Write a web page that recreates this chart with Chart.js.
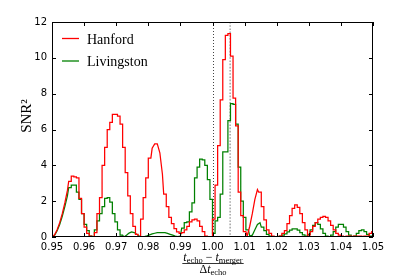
<!DOCTYPE html>
<html><head><meta charset="utf-8">
<script src="https://cdn.jsdelivr.net/npm/chart.js@4/dist/chart.umd.min.js"></script>
<style>html,body{margin:0;padding:0;background:#fff}canvas{display:block}</style>
</head><body>
<canvas id="c" width="415" height="277" style="width:415px;height:277px"></canvas>
<script>
// bin centres (t_echo - t_merger)/Δt_echo
const xs = [
0.9500,0.9508,0.9516,0.9524,0.9532,0.9540,0.9548,0.9556,0.9564,0.9572,
0.9580,0.9588,0.9596,0.9604,0.9612,0.9620,0.9628,0.9636,0.9644,0.9652,
0.9660,0.9668,0.9676,0.9684,0.9692,0.9700,0.9708,0.9716,0.9724,0.9732,
0.9740,0.9748,0.9756,0.9764,0.9772,0.9780,0.9788,0.9796,0.9804,0.9812,
0.9820,0.9828,0.9836,0.9844,0.9852,0.9860,0.9868,0.9876,0.9884,0.9892,
0.9900,0.9908,0.9916,0.9924,0.9932,0.9940,0.9948,0.9956,0.9964,0.9972,
0.9980,0.9988,0.9996,1.0004,1.0012,1.0020,1.0028,1.0036,1.0044,1.0052,
1.0060,1.0068,1.0076,1.0084,1.0092,1.0100,1.0108,1.0116,1.0124,1.0132,
1.0140,1.0148,1.0156,1.0164,1.0172,1.0180,1.0188,1.0196,1.0204,1.0212,
1.0220,1.0228,1.0236,1.0244,1.0252,1.0260,1.0268,1.0276,1.0284,1.0292,
1.0300,1.0308,1.0316,1.0324,1.0332,1.0340,1.0348,1.0356,1.0364,1.0372,
1.0380,1.0388,1.0396,1.0404,1.0412,1.0420,1.0428,1.0436,1.0444,1.0452,
1.0460,1.0468,1.0476,1.0484,1.0492,1.0500];

const hanford = [
0,0.12,0.4,0.8,1.3,1.9,2.6,3.1,3.4,3.35,
3.3,2.15,1.3,0.55,0.2,0.05,0.02,0.25,1.3,2.2,
4.0,5.0,6.0,6.4,6.85,6.85,6.75,6.3,5.0,3.6,
2.3,1.3,0.6,0.15,0.02,1.0,2.2,3.3,4.4,4.95,
5.2,5.2,4.7,3.5,2.4,1.7,1.1,0.75,0.47,0.28,
0.2,0.25,0.4,0.6,0.85,0.95,1.0,0.9,0.6,0.3,
0.05,0,0,1.0,2.9,5.1,7.65,9.9,11.25,11.35,
10.1,7.75,6.2,2.5,1.2,0.3,0.05,0.6,1.3,2.1,
2.65,2.5,1.7,0.95,0.4,0.2,0.05,0,0,0.05,
0.2,0.35,0.75,1.2,1.6,1.8,1.65,1.3,0.8,0.4,
0.1,0.3,0.6,0.8,1.0,1.1,1.15,1.1,0.9,0.65,
0.4,0.2,0.1,0.05,0.02,0.05,0.05,0.03,0.05,0.05,
0.05,0.03,0.05,0.05,0.2,0.3];

const livingston = [
0,0.1,0.35,0.7,1.15,1.7,2.3,2.75,2.9,2.9,
2.5,2.1,1.3,0.7,0.35,0.05,0,0.4,0.9,1.3,
1.7,2.15,2.2,1.95,1.3,0.85,0.4,0.1,0,0.1,
0.22,0.28,0.25,0.15,0.05,0,0.02,0.06,0.12,0.17,
0.21,0.24,0.25,0.25,0.24,0.2,0.15,0.1,0.05,0.02,
0.05,0.5,0.8,0.85,1.4,1.9,3.3,3.9,4.35,4.3,
4.0,3.2,2.1,0.2,0.9,1.1,2.4,4.75,4.75,6.5,
7.45,7.4,6.3,3.9,2.0,1.1,0.4,0.05,0.1,0.4,
0.7,0.8,0.55,0.35,0.15,0.05,0.02,0.02,0.02,0.05,
0.1,0.18,0.28,0.38,0.45,0.45,0.38,0.25,0.12,0.05,
0.15,0.4,0.65,0.8,0.7,0.45,0.2,0.05,0.02,0.1,
0.3,0.55,0.7,0.7,0.55,0.3,0.1,0.02,0.05,0.2,
0.35,0.4,0.3,0.15,0.05,0.02];

// index ranges drawn as smooth curves rather than steps
const hanfordSmooth = [[0,6],[39,43],[76,80]];
const livingstonSmooth = [[0,6],[28,50],[77,81]];

const xTickValues = [0.95,0.96,0.97,0.98,0.99,1.00,1.01,1.02,1.03,1.04,1.05];
const yTickValues = [0,2,4,6,8,10,12];
const markerLines = [1.0, 1.0055];
const seriesNames = ['Hanford','Livingston'];

const binWidth = 0.0008;
function buildPoints(vals, smooth){
  const pts = [];
  const isSmooth = i => smooth.some(([a,b]) => i >= a && i <= b);
  vals.forEach((v,i) => {
    if (isSmooth(i)) pts.push({x: xs[i], y: v});
    else { pts.push({x: xs[i]-binWidth/2, y: v}); pts.push({x: xs[i]+binWidth/2, y: v}); }
  });
  return pts;
}

Chart.defaults.font.family = 'DejaVu Sans';
Chart.defaults.color = '#000';

const deco = {
  id: 'deco',
  beforeDatasetsDraw(chart){
    const {ctx, chartArea:a, scales:{x}} = chart;
    ctx.save();
    let px = Math.round(x.getPixelForValue(markerLines[0])) + 0.5;
    ctx.strokeStyle = '#444'; ctx.lineWidth = 1; ctx.setLineDash([1,2]);
    ctx.beginPath(); ctx.moveTo(px, a.top); ctx.lineTo(px, a.bottom); ctx.stroke();
    px = x.getPixelForValue(markerLines[1]);
    ctx.strokeStyle = '#aaa'; ctx.lineWidth = 1.6; ctx.setLineDash([1.6,1.6]);
    ctx.beginPath(); ctx.moveTo(px, a.top); ctx.lineTo(px, a.bottom); ctx.stroke();
    ctx.restore();
  },
  afterDraw(chart){
    const {ctx, chartArea:a, scales:{x,y}} = chart;
    ctx.save();
    // frame
    ctx.strokeStyle = '#000'; ctx.lineWidth = 1; ctx.setLineDash([]);
    ctx.strokeRect(a.left+0.5, a.top+0.5, a.right-a.left-1, a.bottom-a.top-1);
    // inward ticks, all sides
    ctx.beginPath();
    xTickValues.forEach(v => {
      const px = Math.round(x.getPixelForValue(v)) + 0.5;
      ctx.moveTo(px, a.bottom); ctx.lineTo(px, a.bottom-4);
      ctx.moveTo(px, a.top); ctx.lineTo(px, a.top+4);
    });
    yTickValues.forEach(v => {
      const py = Math.round(y.getPixelForValue(v)) + 0.5;
      ctx.moveTo(a.left, py); ctx.lineTo(a.left+4, py);
      ctx.moveTo(a.right, py); ctx.lineTo(a.right-4, py);
    });
    ctx.stroke();
    // legend
    chart.data.datasets.forEach((ds,i) => {
      const ly = a.top + 16.5 + i*22.5;
      ctx.strokeStyle = ds.borderColor; ctx.lineWidth = 1.3;
      ctx.beginPath(); ctx.moveTo(a.left+10, ly); ctx.lineTo(a.left+27, ly); ctx.stroke();
      ctx.fillStyle = '#000'; ctx.font = '14px "Liberation Serif"';
      ctx.textAlign = 'left'; ctx.textBaseline = 'alphabetic';
      ctx.fillText(ds.label, a.left+35, ly+5);
    });
    // y title
    ctx.save();
    ctx.translate(27, 116); ctx.rotate(-Math.PI/2);
    ctx.font = '15px "Liberation Serif"'; ctx.textAlign = 'center'; ctx.textBaseline = 'middle';
    ctx.fillText('SNR²', 0, 0);
    ctx.restore();
    // x title (fraction)
    const cx = (a.left + a.right)/2 + 0.5;
    const main = 'italic 12px "Liberation Serif"', up = '12px "Liberation Serif"', sub = '8.5px "Liberation Serif"';
    const num = [[main,'t',0],[sub,'echo',2.5],[up,' \u2212 ',0],[main,'t',0],[sub,'merger',2.5]];
    const den = [[up,'\u0394',0],[main,'t',0],[sub,'echo',2.5]];
    function drawParts(parts, baseY){
      let w = 0;
      parts.forEach(p => { ctx.font = p[0]; w += ctx.measureText(p[1]).width; });
      let px = cx - w/2;
      ctx.textAlign = 'left'; ctx.textBaseline = 'alphabetic';
      parts.forEach(p => { ctx.font = p[0]; ctx.fillText(p[1], px, baseY + p[2]); px += ctx.measureText(p[1]).width; });
      return w;
    }
    ctx.fillStyle = '#000';
    const wn = drawParts(num, 260.5);
    drawParts(den, 272.5);
    ctx.strokeStyle = '#000'; ctx.lineWidth = 0.8;
    ctx.beginPath(); ctx.moveTo(cx - wn/2 - 1, 263.5); ctx.lineTo(cx + wn/2 + 1, 263.5); ctx.stroke();
    ctx.restore();
  }
};

new Chart(document.getElementById('c'), {
  type: 'line',
  data: {
    datasets: [
      {label: seriesNames[0], data: buildPoints(hanford, hanfordSmooth), borderColor: '#ff0000', borderWidth: 1.25, pointRadius: 0, fill: false},
      {label: seriesNames[1], data: buildPoints(livingston, livingstonSmooth), borderColor: '#008000', borderWidth: 1.25, pointRadius: 0, fill: false}
    ]
  },
  options: {
    responsive: false, animation: false, devicePixelRatio: 1,
    layout: {padding: {left: 0, right: 42, top: 22, bottom: 0}},
    plugins: {legend: {display: false}, tooltip: {enabled: false}},
    elements: {line: {tension: 0}},
    scales: {
      x: {
        type: 'linear', min: 0.95, max: 1.05,
        grid: {display: false, drawTicks: false}, border: {display: false},
        ticks: {padding: 4, autoSkip: false, maxRotation: 0, font: {size: 10}, color: '#000',
                callback: v => Number(v).toFixed(2)},
        afterBuildTicks: s => { s.ticks = xTickValues.map(v => ({value: v})); },
        afterFit: s => { s.height = 40; }
      },
      y: {
        min: 0, max: 12,
        grid: {display: false, drawTicks: false}, border: {display: false},
        ticks: {padding: 5, font: {size: 10}, color: '#000', callback: v => String(v)},
        afterBuildTicks: s => { s.ticks = yTickValues.map(v => ({value: v})); },
        afterFit: s => { s.width = 52; }
      }
    }
  },
  plugins: [deco]
});
</script>
</body></html>
